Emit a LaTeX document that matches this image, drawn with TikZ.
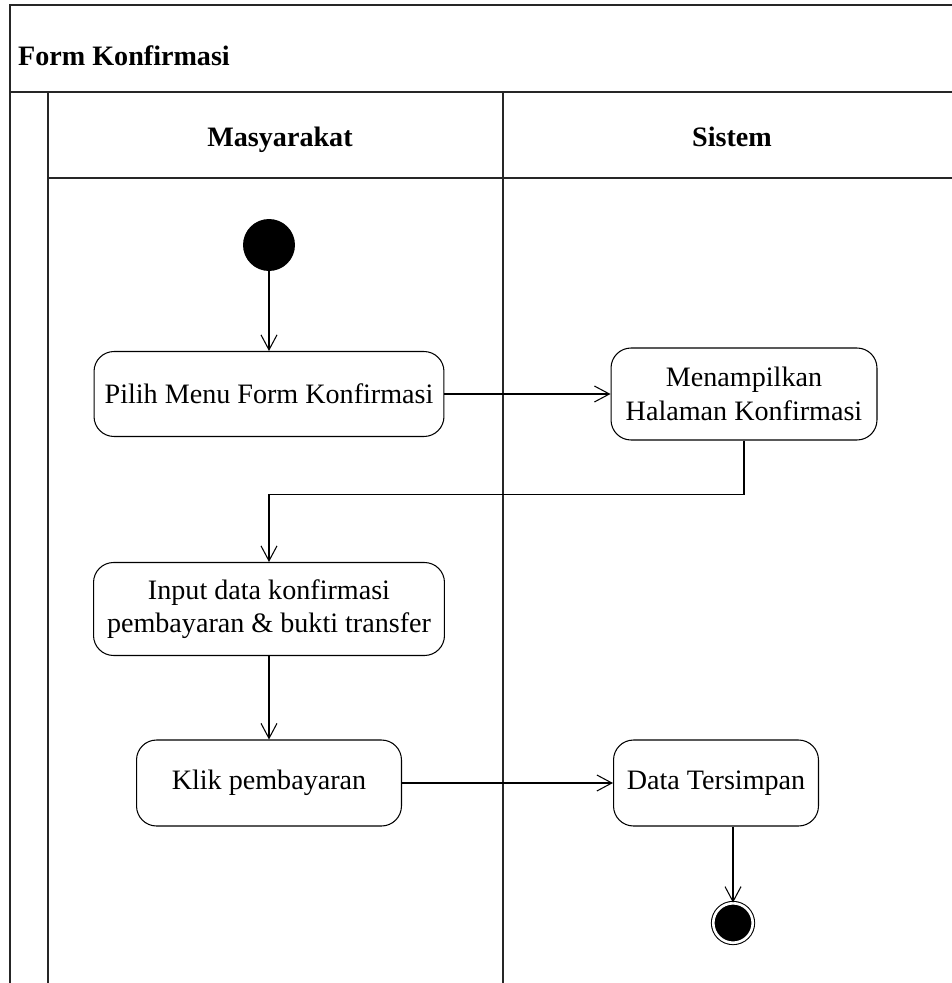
\documentclass[tikz,border=0pt]{standalone}
\usepackage{fontspec}
\setmainfont{Liberation Serif}
\usetikzlibrary{arrows.meta}
\tikzset{aksi/.style={draw=black,rectangle,rounded corners=0.4cm,align=center,fill=white,line width=0.6pt,font=\fontsize{16}{19}\selectfont}}
\tikzset{mulai/.style={circle,fill=black,minimum size=1.04cm,inner sep=0pt}}
\tikzset{selesai/.style={circle,fill=black,draw=black,double=white,double distance=1.5pt,line width=0.6pt,minimum size=0.79cm,inner sep=0pt}}
\tikzset{alur/.style={-{Straight Barb[length=3mm,width=3.2mm]},line width=0.6pt}}
\tikzset{lajur/.style={draw=black!85,line width=0.9pt}}
\tikzset{judul/.style={font=\bfseries\fontsize{16}{19}\selectfont,anchor=base}}

\begin{document}
\begin{tikzpicture}[x=0.02cm,y=-0.02cm]
        \useasboundingbox (0,0) rectangle (952,983);
        % swimlane
        \draw[lajur] (952,5) -- (10,5) -- (10,983);
        \draw[lajur] (10,92) -- (952,92);
        \draw[lajur] (48,92) -- (48,983);
        \draw[lajur] (48,178) -- (952,178);
        \draw[lajur] (503,92) -- (503,983);
        \node[judul,anchor=base west] (judul) at (12,66) {Form Konfirmasi};
        \node[judul] (masyarakat) at (280,147) {Masyarakat};
        \node[judul] (sistem) at (732,147) {Sistem};

        % aktivitas
        \node[mulai] (awal) at (269,245) {};
        \node[aksi,minimum width=7cm,minimum height=1.7cm] (pilih) at (269,394) {Pilih Menu Form Konfirmasi};
        \node[aksi,minimum width=5.32cm,minimum height=1.84cm] (tampil) at (744,394) {Menampilkan\\Halaman Konfirmasi};
        \node[aksi,minimum width=7.02cm,minimum height=1.86cm] (input) at (269,609) {Input data konfirmasi\\pembayaran \& bukti transfer};
        \node[aksi,minimum width=5.3cm,minimum height=1.72cm] (klik) at (269,783) {Klik pembayaran};
        \node[aksi,minimum width=4.1cm,minimum height=1.72cm] (simpan) at (716,783) {Data Tersimpan};
        \node[selesai] (akhir) at (733,923) {};

        \draw[alur] (awal) -- (pilih);
        \draw[alur] (pilih) -- (tampil);
        \draw[alur] (tampil.south) -- ++(0,54) -| (input.north);
        \draw[alur] (input) -- (klik);
        \draw[alur] (klik) -- (simpan);
        \draw[alur] (simpan.south -| akhir) -- (akhir);

    \end{tikzpicture}
\end{document}
